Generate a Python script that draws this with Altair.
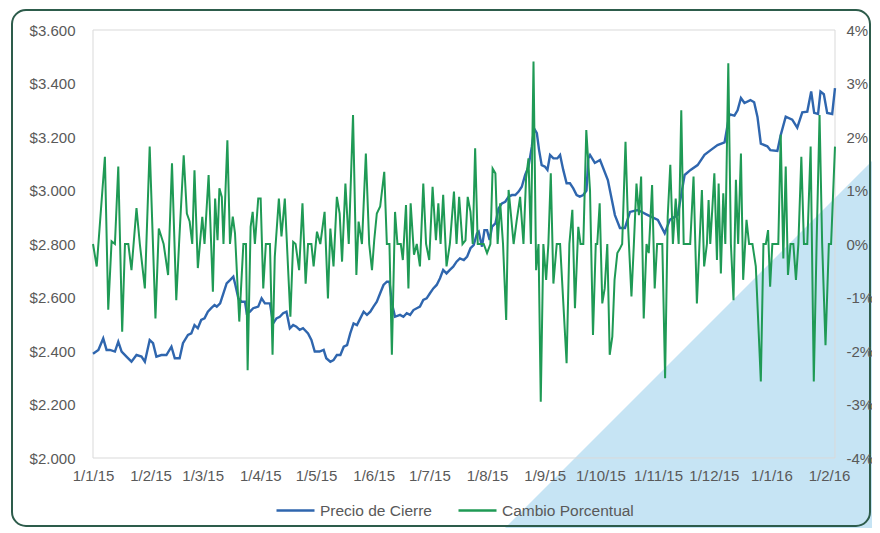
import altair as alt
import pandas as pd

# ---- data (day offsets from 1 Jan 2015) ----
pct_days = [0, 2, 6.4, 8.2, 10, 11.8, 13.6, 15.7, 17.2, 19, 20.7, 23.4, 25.2, 27.9, 30.5, 33.6, 35.4, 38, 40.4,
            42.5, 44.8, 46.3, 48.8, 50.5, 52, 53.4, 54.6, 56.4, 58.8, 60, 62.2, 64.5, 65.7, 67, 68, 69.3, 70.2,
            72.3, 73.7, 75.2, 76.4, 78.7, 80.9, 82.3, 83.2, 84.8, 85.9, 87.1, 88.9, 90.2, 91.6, 93, 95.2, 96.6,
            97.8, 100, 101.4, 103.2, 105, 106.2, 107.7, 109, 110.9, 112.7, 114.4, 115.7, 117.5, 118.7, 120.5,
            122.3, 124.6, 126.4, 127.7, 129.4, 131.2, 132.7, 134, 135.8, 137.6, 139.9, 141.7, 142.9, 144.7,
            146.8, 148.6, 150.1, 151.3, 152.7, 154.5, 156.7, 158.1, 159.5, 160.8, 162.5, 163.8, 165.6, 166.7,
            168.4, 169.7, 170.9, 172.7, 174.2, 175.9, 177.7, 179.2, 180.9, 182.7, 184.5, 185.8, 187, 188.4,
            190.2, 192, 194.2, 195.6, 197, 198.8, 200.4, 201.6, 203.1, 204.3, 205.6, 207, 208.4, 210.2, 212,
            213.8, 215, 216.5, 217.7, 219.1, 220.6, 222.3, 223.6, 224.8, 226.3, 228, 229.8, 231.6, 233, 234.3,
            235.6, 237, 238.4, 239.7, 240.9, 242.3, 243.8, 245, 246.3, 247.7, 249.5, 251.3, 253, 254.8, 256.3,
            257.9, 259.3, 261.1, 262.3, 263.8, 265.4, 267.4, 269, 270.5, 271.3, 272.6, 274, 275.3, 276.7, 278,
            279.4, 280.6, 282.1, 283.3, 284.7, 286.5, 287.9, 289.7, 291, 292.4, 293.7, 294.9, 296.3, 297.8,
            299, 300.8, 302.2, 303.5, 304.9, 306.3, 307.8, 309.2, 310.6, 312, 313.5, 315.1, 316.5, 317.8,
            319.6, 321.3, 323.1, 324.9, 326.3, 327.6, 328.8, 330.3, 331.2, 332.1, 334.3, 335.7, 336.6, 337.8,
            339.1, 340.2, 341.8, 343.2, 344.6, 345.9, 347.1, 348.6, 349.8, 351.6, 353, 354.8, 356.6, 359.3,
            360.7, 362, 363.2, 364.3, 365.5, 367.3, 368.7, 370, 371.4, 372.7, 373.9, 375.3, 376.8, 378.2,
            379.5, 381.1, 382.5, 384.3, 386.1, 387.8, 389.3, 390.9, 392.3, 394.1, 395.9, 397.1, 399.2]
pct_values = [0, -0.42, 1.63, -1.23, 0.05, 0, 1.45, -1.64, 0, 0, -0.49, 0.67, 0, -0.83, 1.82, -1.39, 0.29, 0, -0.58,
              1.51, -1.05, 0, 1.66, 0.57, 0.42, 0, 1.38, -0.45, 0.51, 0, 1.29, -0.89, 0.85, 0.07, 1.04, 0.88, 0,
              1.94, 0, 0.51, 0.2, -1.45, 0, 0, -2.36, 0.32, 0.6, 0, 0.85, 0.85, -0.83, 0, 0, -2.07,
              -0.24, 0.85, 0.14, 0.85, -0.49, -1.36, 0.04, 0, -0.49, 0.76, -0.74, 0, 0, -0.42, 0.23,
              0, 0.6, -1.02, 0.29, -0.42, 0.88, 0.57, -0.33, 1.13, 0, 2.41, -0.58, 0.42, 0,
              1.69, 0, -0.49, 0.07, 0.57, 0.7, 1.35, 0, 0, -2.07, 0.6, 0, 0, -0.3,
              0.73, -0.83, 0.76, -0.2, 0, -0.42, 1.13, 0, -0.3, 1.07, 0.07, 0.76, 0, 0.92,
              -0.42, 0, 0.98, 0, 0.88, 0, 0.07, 0.88, 0.6, 0, 1.79, 0, 0, 0, -0.17,
              0, 1.41, 1.32, 0, 0.76, 0, -1.42, 1.01, 0.57, 0, 0.45, 0.88, 0, 1.23, 1.6,
              0, 3.41, -0.49, 0, -2.95, 0, -0.67, 0, 1.32, -0.74, 0, 0, -1.08, -2.23, 0,
              0.64, -1.2, 0.32, 0, 0, 2.13, 1.0, -1.7, 0, 0, 0.76, -1.11, -0.83, 0, -2.07,
              -1.73, -0.67, -0.17, -0.1, 0, 1.91, 0.32, -0.98, 0, 1.13, 0.54, 1.26, -1.39, 0,
              -0.17, 1.1, -0.83, 0, 0, 0, -2.51, 0.51, 1.48, 0, 0.85, 0, 2.5, 0,
              0, 0, 1.26, -1.11, 0, 1.01, -0.42, 0, 0.82, 0, 1.32, -0.3, 1.13, -0.55,
              0.95, 0, 3.38, 0, -1.05, 1.2, 0, 1.69, -0.67, 0.45, 0, 0, -0.42, -2.57,
              0, 0, 0.26, -0.8, 0, 0, 0, 2.04, -0.27, 1.45, -0.58, 0, 0, -0.67,
              0, 1.63, 0, 0, 1.82, -2.57, 0, 2.41, 0, -1.89, 0, 0, 1.82]

price_days = [0, 2.9, 5.5, 7.3, 9.1, 11.8, 13.6, 15.4, 18, 20.7, 23.4, 26.1, 27.9, 30.5, 32.3, 34.1, 36.8, 39.5,
              42.2, 44, 46.6, 48.4, 51.1, 52.9, 54.6, 56.4, 58.2, 60, 61.8, 63.6, 65.4, 66.6, 68.4, 70.2, 71.9,
              73.7, 75.5, 76.6, 78.2, 80, 81.8, 82.7, 84.4, 86.2, 88.9, 90.7, 92.5, 95.2, 96.9, 98.7, 100.5,
              102.3, 104.1, 105.9, 107.7, 109.4, 111.2, 113, 115.7, 117.5, 119.3, 121.9, 124.1, 125.5, 127.7,
              129.4, 131.2, 133.1, 134.9, 136.7, 138.4, 140.2, 142, 143.8, 145.6, 147.4, 149.2, 150.9, 152.7,
              154.5, 156.3, 158.1, 159.5, 160.8, 162.5, 165.2, 167, 168.8, 170.6, 172.4, 174.2, 175.9, 177.7,
              179.5, 181.3, 183.1, 184.9, 186.7, 188.4, 190.2, 192, 193.8, 195.6, 197.4, 199.5, 201.3, 203.1,
              204.8, 206.6, 207.5, 209.3, 210.6, 212, 213.4, 214.7, 216.5, 218.2, 220, 221.8, 223.6, 225.4,
              227.2, 229, 230.7, 232.5, 234.3, 236.1, 237.3, 238.8, 240, 241.4, 243.2, 244.5, 245.9, 247.7,
              249.8, 251.3, 253, 254.8, 256.6, 258.4, 260.2, 261.9, 263.8, 265.5, 266.5, 267.4, 270, 272.8,
              277, 280.8, 283.5, 286.2, 288.9, 293.1, 298.5, 303.9, 307.6, 310.3, 314.6, 318.3, 321.5, 325.3,
              329, 332.3, 336, 339.8, 342.4, 345.1, 346.8, 348.6, 350.5, 353.7, 355.7, 357.5, 359.3, 362.8,
              364.4, 368.2, 370, 372.7, 376.2, 378.9, 381.6, 384.3, 386.4, 388, 390.1, 391.4, 393.2, 395,
              397.7, 399.2]
price_values = [2390, 2404, 2447, 2404, 2404, 2398, 2435, 2398, 2379, 2360, 2385, 2379, 2360, 2441, 2429, 2379, 2385, 2385,
                2416, 2373, 2373, 2429, 2460, 2466, 2497, 2485, 2516, 2522, 2547, 2560, 2572, 2566, 2578, 2616, 2653,
                2665, 2678, 2647, 2597, 2584, 2584, 2541, 2547, 2560, 2566, 2597, 2578, 2578, 2503, 2522, 2528,
                2541, 2547, 2485, 2497, 2491, 2479, 2485, 2466, 2441, 2398, 2398, 2404, 2373, 2360,
                2366, 2385, 2385, 2416, 2422, 2466, 2503, 2497, 2522, 2547, 2535, 2547, 2566, 2584,
                2616, 2647, 2659, 2659, 2578, 2528, 2535, 2528, 2541, 2535, 2553, 2560, 2566, 2591,
                2597, 2616, 2634, 2647, 2672, 2703, 2690, 2703, 2715, 2734, 2746, 2740, 2753, 2784,
                2796, 2840, 2846, 2790, 2852, 2852, 2815, 2865, 2877, 2933, 2952, 2958, 2977, 2983,
                2983, 2996, 3014, 3058, 3089, 3164, 3232, 3214, 3151, 3095, 3089, 3077, 3133, 3120,
                3120, 3133, 3077, 3027, 3027, 3008, 2983, 2977, 2983, 3000, 3120, 3133, 3103, 3114,
                3039, 2908, 2860, 2860, 2920, 2927, 2908, 2890, 2840, 2890, 2908, 3058, 3077, 3095,
                3133, 3151, 3170, 3180, 3285, 3280, 3300, 3346, 3327, 3338, 3330, 3275, 3175, 3165,
                3151, 3148, 3207, 3276, 3265, 3235, 3292, 3295, 3370, 3290, 3286, 3370, 3360, 3290,
                3286, 3383]

series_names = ["Precio de Cierre", "Cambio Porcentual"]
series_colors = ["#2f66ae", "#1f9a55"]
month_ticks = [(2015, m) for m in range(1, 13)] + [(2016, 1), (2016, 2)]

start = pd.Timestamp("2015-01-01")
price_df = pd.DataFrame({"fecha": start + pd.to_timedelta(price_days, unit="D"), "precio": price_values,
                         "serie": series_names[0]})
pct_df = pd.DataFrame({"fecha": start + pd.to_timedelta(pct_days, unit="D"), "cambio": pct_values,
                       "serie": series_names[1]})
one = pd.DataFrame({"k": [0]})

W, H = 742, 428
FONT = "Liberation Sans"
LABEL = "#595959"

x_scale = alt.Scale(domain=[alt.DateTime(year=2015, month=1, date=1),
                            alt.DateTime(year=2016, month=2, date=4, hours=5)])
x_axis = alt.Axis(title=None, values=[alt.DateTime(year=y, month=m, date=1) for y, m in month_ticks],
                  format="%-d/%-m/%y", labelPadding=10, labelFlush=False, labelOverlap=False, zindex=2)
color_scale = alt.Scale(domain=series_names, range=series_colors)
legend = alt.Legend(title=None, orient="none", legendX=182, legendY=460, direction="horizontal",
                    symbolType="stroke", symbolSize=1444, symbolStrokeWidth=2.5, labelOffset=4,
                    columnPadding=21, labelFontSize=15.5, labelColor=LABEL, labelFont=FONT, zindex=2)

# decorative light-blue corner triangle (hypotenuse along page x + y = 1033)
tri = alt.Chart(one).mark_point(shape="M-1,1L1,-1L1,1Z", size=230400, filled=True,
                                fill="#c6e4f4", opacity=1, strokeWidth=0).encode(
    x=alt.value(597), y=alt.value(313))

# rounded outer frame
frame = alt.Chart(one).mark_rect(fill="transparent", stroke="#2d5c4b", strokeWidth=2, cornerRadius=14).encode(
    x=alt.value(-81), x2=alt.value(777), y=alt.value(-20), y2=alt.value(496))

# plot area border
plot_border = alt.Chart(one).mark_rect(fill="transparent", stroke="#d9d9d9", strokeWidth=1).encode(
    x=alt.value(0), x2=alt.value(W), y=alt.value(0), y2=alt.value(H))

price_line = alt.Chart(price_df).mark_line(strokeWidth=2.4).encode(
    x=alt.X("fecha:T", scale=x_scale, axis=x_axis),
    y=alt.Y("precio:Q", scale=alt.Scale(domain=[2000, 3600], nice=False),
            axis=alt.Axis(title=None, orient="left", values=list(range(2000, 3601, 200)),
                          labelExpr="'$' + replace(format(datum.value, ','), ',', '.')",
                          labelPadding=18, zindex=2)),
    color=alt.Color("serie:N", scale=color_scale, legend=legend),
)

pct_line = alt.Chart(pct_df).mark_line(strokeWidth=2).encode(
    x=alt.X("fecha:T", scale=x_scale, axis=x_axis),
    y=alt.Y("cambio:Q", scale=alt.Scale(domain=[-4, 4], nice=False),
            axis=alt.Axis(title=None, orient="right", values=list(range(-4, 5)),
                          labelExpr="datum.value + '%'", labelPadding=11, zindex=2)),
    color=alt.Color("serie:N", scale=color_scale, legend=legend),
)

chart = alt.layer(tri, frame, plot_border, price_line, pct_line).resolve_scale(
    y="independent"
).properties(
    width=W, height=H,
    padding={"left": 85, "top": 22, "right": 864 - 85 - W, "bottom": 70},
    autosize=alt.AutoSizeParams(type="none"),
    background="white",
).configure_view(stroke=None).configure_axis(
    domain=False, ticks=False, grid=False, labelFont=FONT, labelFontSize=15, labelColor=LABEL
)

chart.save("out.html", embed_options={"renderer": "svg", "actions": False})
